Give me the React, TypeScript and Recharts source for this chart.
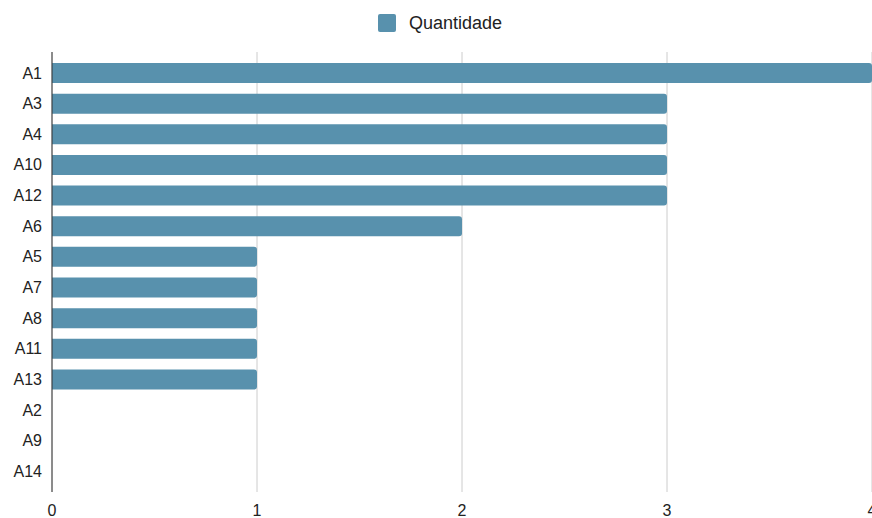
import React from "react";
import { BarChart, Bar, XAxis, YAxis, CartesianGrid, Legend } from "recharts";

const categories = ["A1", "A3", "A4", "A10", "A12", "A6", "A5", "A7", "A8", "A11", "A13", "A2", "A9", "A14"];
const quantidade = [4, 3, 3, 3, 3, 2, 1, 1, 1, 1, 1, 0, 0, 0];
const xTicks = [0, 1, 2, 3, 4];
const seriesName = "Quantidade";

const data = categories.map((name, i) => ({ name, value: quantidade[i] }));

const BAR_COLOR = "#5891ad";
const FONT = "Arial, 'Liberation Sans', sans-serif";

const LegendContent = () => (
  <div
    style={{
      height: 52,
      boxSizing: "border-box",
      paddingTop: 14,
      display: "flex",
      justifyContent: "center",
      alignItems: "flex-start",
      fontFamily: FONT,
    }}
  >
    <div style={{ display: "flex", alignItems: "center", marginLeft: 8 }}>
      <span
        style={{
          display: "inline-block",
          width: 18,
          height: 18,
          borderRadius: 2,
          background: BAR_COLOR,
          marginRight: 13,
        }}
      />
      <span style={{ fontSize: 18, color: "#222", lineHeight: "18px" }}>{seriesName}</span>
    </div>
  </div>
);

export default function App() {
  return (
    <div style={{ position: "absolute", left: 0, top: 0, width: 872, height: 518, background: "#fff" }}>
      <BarChart
        width={872}
        height={518}
        data={data}
        layout="vertical"
        margin={{ top: 0, right: 0, bottom: 0, left: 0 }}
        barCategoryGap="18%"
      >
        <Legend verticalAlign="top" align="center" content={<LegendContent />} />
        <CartesianGrid horizontal={false} vertical stroke="#cccccc" strokeWidth={1} />
        <XAxis
          type="number"
          domain={[0, 4]}
          ticks={xTicks}
          axisLine={false}
          tickLine={false}
          tickSize={0}
          tickMargin={13}
          height={26}
          interval={0}
          tick={{ fontSize: 16, fill: "#222", fontFamily: FONT }}
        />
        <YAxis
          type="category"
          dataKey="name"
          width={52}
          axisLine={{ stroke: "#333", strokeWidth: 1 }}
          tickLine={false}
          tickSize={0}
          tickMargin={10}
          interval={0}
          padding={{ top: 5.5, bottom: 5.5 }}
          tick={{ fontSize: 16, fill: "#222", fontFamily: FONT }}
        />
        <Bar dataKey="value" name={seriesName} fill={BAR_COLOR} radius={[0, 3, 3, 0]} isAnimationActive={false} />
      </BarChart>
    </div>
  );
}
